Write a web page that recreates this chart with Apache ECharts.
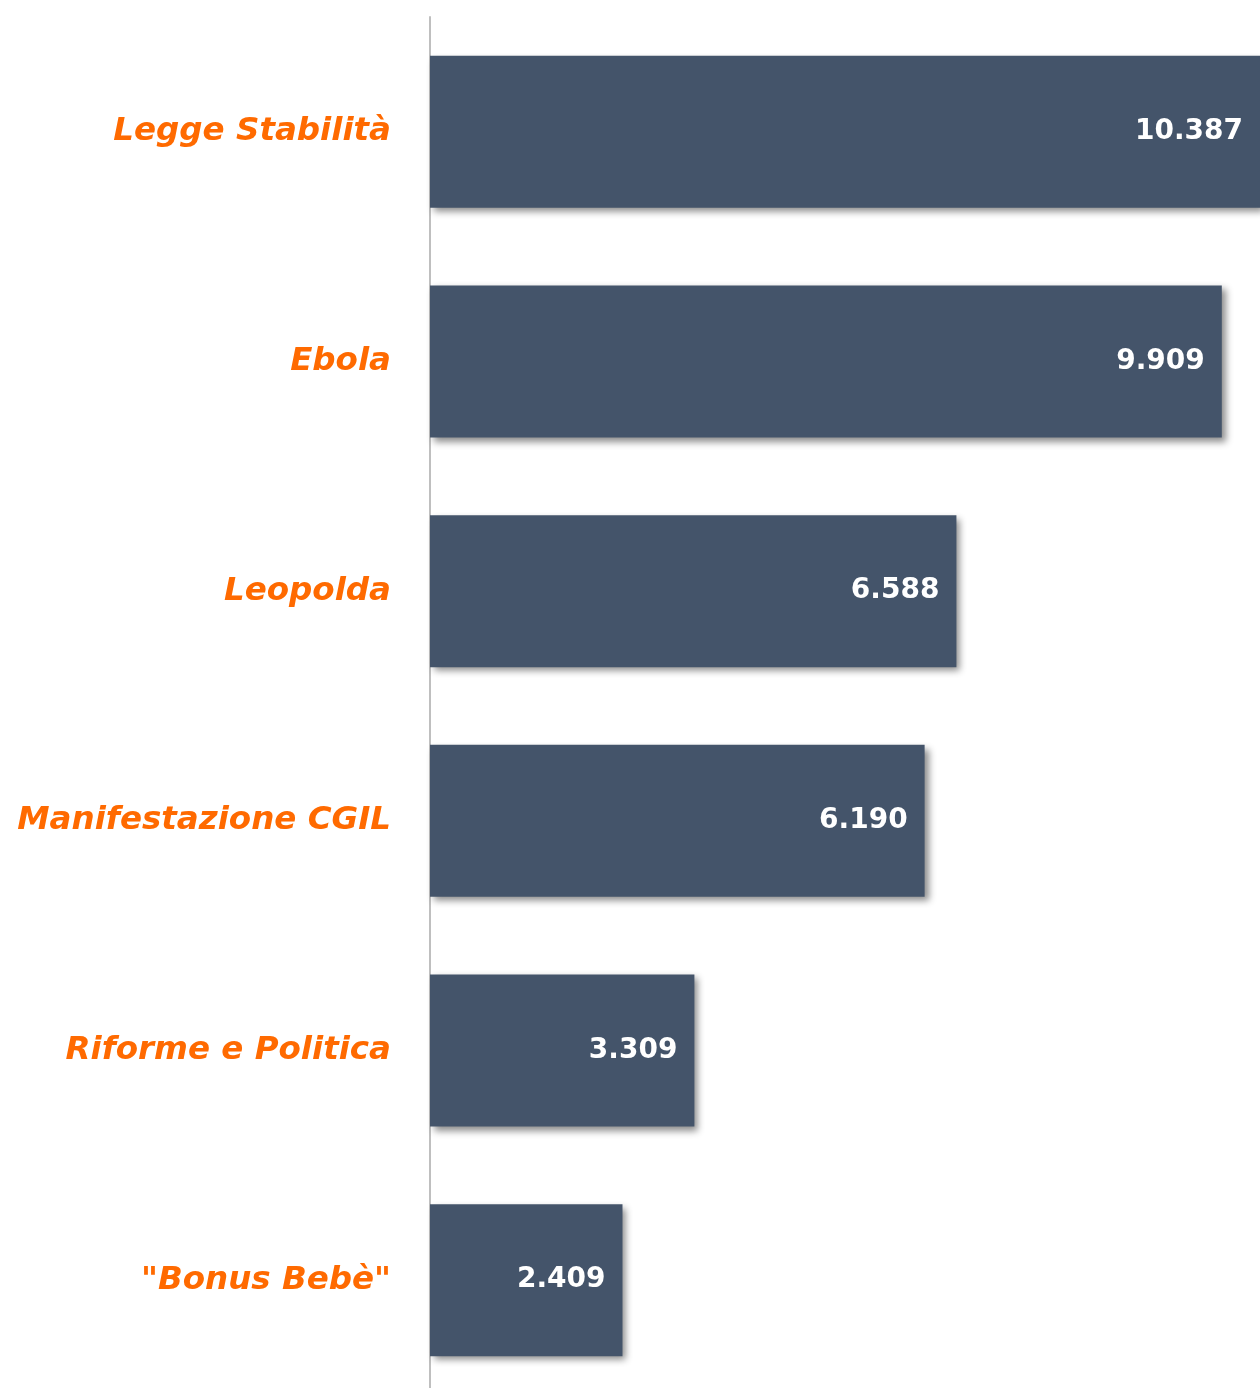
<!DOCTYPE html>
<html>
<head>
<meta charset="utf-8">
<script src="https://cdn.jsdelivr.net/npm/echarts@6/dist/echarts.min.js"></script>
<style>
  html, body { margin: 0; padding: 0; background: #fff; overflow: hidden; }
  #chart { width: 1260px; height: 1400px; }
</style>
</head>
<body>
<div id="chart"></div>
<script>
  // argomenti e volumi (migliaia)
  var categories = ['Legge Stabilità', 'Ebola', 'Leopolda', 'Manifestazione CGIL', 'Riforme e Politica', '"Bonus Bebè"'];
  var values = [10.387, 9.909, 6.588, 6.190, 3.309, 2.409];

  var chart = echarts.init(document.getElementById('chart'));

  function fmt(v) {
    return v.toFixed(3);
  }

  chart.setOption({
    animation: false,
    grid: { left: 430, right: 0, top: 17, height: 1378 },
    xAxis: {
      type: 'value',
      min: 0,
      max: 10.387,
      show: false
    },
    yAxis: {
      type: 'category',
      inverse: true,
      offset: 2,
      data: categories,
      axisLine: { show: true, lineStyle: { color: '#BFBFBF', width: 2 } },
      axisTick: { show: false },
      axisLabel: {
        margin: 37,
        color: '#FF6A00',
        fontSize: 32.5,
        fontStyle: 'italic',
        fontWeight: 'bold',
        fontFamily: 'DejaVu Sans'
      }
    },
    series: [{
      type: 'bar',
      data: values,
      barCategoryGap: '33.8%',
      itemStyle: {
        color: '#44546A',
        shadowColor: 'rgba(0,0,0,0.45)',
        shadowBlur: 7,
        shadowOffsetX: 4,
        shadowOffsetY: 4
      },
      label: {
        show: true,
        position: 'insideRight',
        distance: 17,
        color: '#fff',
        fontSize: 28,
        fontWeight: 'bold',
        fontFamily: 'DejaVu Sans',
        formatter: function(p) { return fmt(p.value); }
      }
    }]
  });
</script>
</body>
</html>
